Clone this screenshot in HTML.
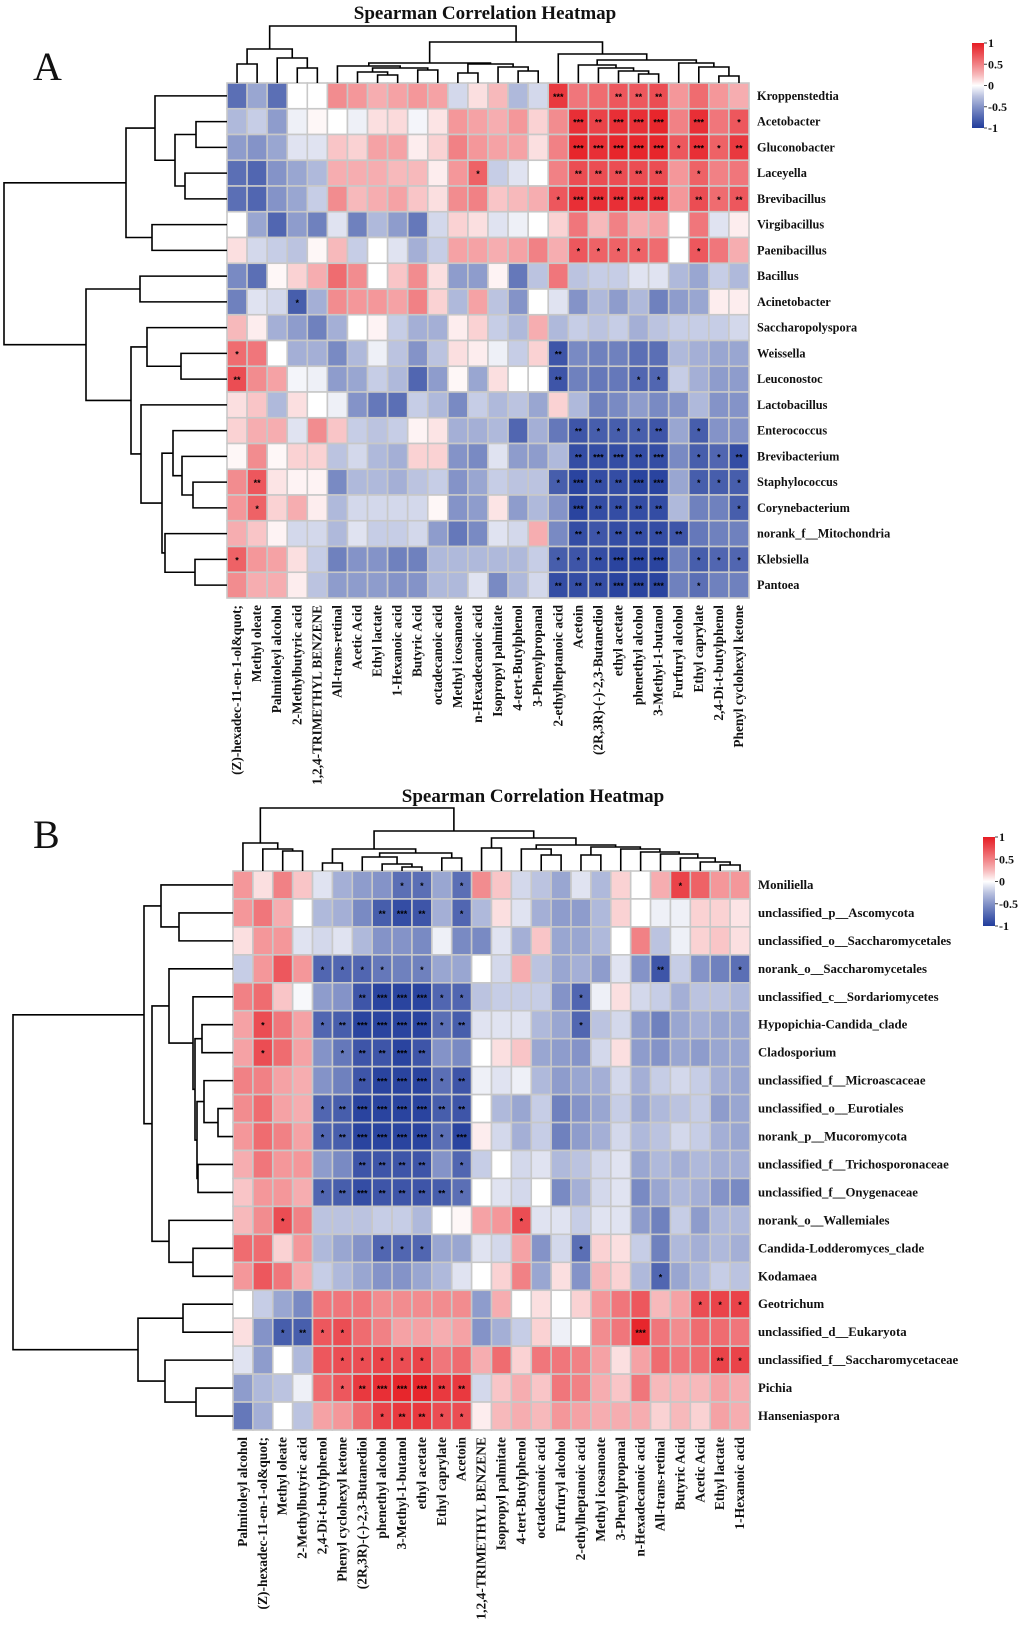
<!DOCTYPE html>
<html><head><meta charset="utf-8"><style>
html,body{margin:0;padding:0;background:#fff;}
svg{display:block;font-family:"Liberation Serif",serif;}
</style></head><body>
<svg id="chart" width="1031" height="1637" viewBox="0 0 1031 1637" xmlns="http://www.w3.org/2000/svg"></svg>
<script>
// ===== Panel A data =====
const colsA = ["(Z)-hexadec-11-en-1-ol&quot;","Methyl oleate","Palmitoleyl alcohol","2-Methylbutyric acid","1,2,4-TRIMETHYL BENZENE","All-trans-retinal","Acetic Acid","Ethyl lactate","1-Hexanoic acid","Butyric Acid","octadecanoic acid","Methyl icosanoate","n-Hexadecanoic acid","Isopropyl palmitate","4-tert-Butylphenol","3-Phenylpropanal","2-ethylheptanoic acid","Acetoin","(2R,3R)-(-)-2,3-Butanediol","ethyl acetate","phenethyl alcohol","3-Methyl-1-butanol","Furfuryl alcohol","Ethyl caprylate","2,4-Di-t-butylphenol","Phenyl cyclohexyl ketone"];
const rowsA = ["Kroppenstedtia","Acetobacter","Gluconobacter","Laceyella","Brevibacillus","Virgibacillus","Paenibacillus","Bacillus","Acinetobacter","Saccharopolyspora","Weissella","Leuconostoc","Lactobacillus","Enterococcus","Brevibacterium","Staphylococcus","Corynebacterium","norank_f__Mitochondria","Klebsiella","Pantoea"];
const valsA = [
[-.7,-.4,-.7,0,0,.45,.4,.3,.35,.4,.35,-.15,.1,.25,-.3,-.15,.85,.55,.6,.7,.7,.75,.4,.6,.4,.3],
[-.3,-.2,-.45,-.05,.02,0,-.05,.1,.12,-.03,.08,.4,.35,.3,.4,.15,.45,.9,.8,.9,.9,.95,.5,.9,.55,.7],
[-.45,-.5,-.4,-.1,-.1,.2,.15,.35,.35,.05,.15,.5,.4,.35,.35,.1,.5,.95,.9,.95,.95,.95,.7,.9,.65,.85],
[-.7,-.75,-.5,-.4,-.3,.3,.3,.3,.25,.25,.05,.4,.65,-.2,-.1,0,.5,.75,.75,.75,.75,.75,.4,.65,.5,.55],
[-.7,-.75,-.5,-.4,-.2,.45,.25,.3,.35,.2,.1,.45,.5,.2,.25,.3,.7,.9,.9,.9,.9,.9,.4,.75,.6,.7],
[0,-.4,-.75,-.45,-.6,-.1,-.6,-.3,-.45,-.65,-.15,.15,.1,-.1,-.05,0,.15,.55,.25,.5,.3,.35,0,.55,-.1,.05],
[.1,-.15,-.2,-.25,.02,.25,-.2,0,-.1,-.35,-.2,.35,.35,.3,.35,.5,.3,.7,.65,.65,.65,.6,0,.7,.55,.3],
[-.55,-.7,.02,.15,.3,.6,.45,0,.2,.45,.1,-.45,-.45,.03,-.65,-.25,.55,-.25,-.2,-.2,-.1,-.1,-.3,-.4,-.2,-.3],
[-.6,-.1,-.15,-.8,-.35,.45,.4,.4,.35,.5,.15,-.3,.35,-.25,-.5,0,-.1,-.5,-.3,-.45,-.3,-.6,-.45,-.4,.05,.05],
[.25,.05,-.35,-.45,-.6,-.35,0,.03,-.2,-.35,-.35,.05,.15,-.2,-.3,.3,-.3,-.2,-.25,-.2,-.35,-.25,-.2,-.2,-.2,-.15],
[.6,.55,0,-.35,-.35,-.55,-.3,-.05,-.25,-.5,-.25,.1,.05,-.05,-.2,.15,-.85,-.55,-.6,-.6,-.7,-.7,-.3,-.35,-.4,-.4],
[.75,.45,.35,-.03,-.05,-.45,-.4,-.2,-.3,-.75,-.45,.02,-.4,.1,0,0,-.85,-.6,-.65,-.65,-.75,-.75,-.2,-.35,-.45,-.45],
[.1,.2,-.3,.1,0,-.05,-.5,-.65,-.7,-.2,-.3,-.55,-.2,-.3,-.25,-.4,.15,-.3,-.6,-.55,-.45,-.55,-.5,-.3,-.5,-.5],
[.15,.3,.3,-.1,.45,.2,-.2,-.25,-.2,.03,.08,-.35,-.35,-.3,-.75,-.35,-.65,-.85,-.8,-.8,-.8,-.85,-.4,-.8,-.5,-.5],
[.02,.45,.02,.15,.15,-.25,-.15,-.3,-.35,.15,.15,-.5,-.55,-.1,-.45,-.45,-.3,-.9,-.9,-.9,-.9,-.9,-.55,-.8,-.75,-.9],
[.45,.7,.08,.03,.03,-.55,-.3,-.3,-.35,-.25,-.2,-.5,-.4,-.2,-.25,-.25,-.8,-.95,-.9,-.9,-.95,-.95,-.4,-.8,-.8,-.8],
[.4,.65,.15,.3,.05,-.3,-.15,-.15,-.15,-.15,.02,-.5,-.45,.08,-.45,-.3,-.5,-.95,-.9,-.9,-.9,-.9,-.3,-.6,-.6,-.8],
[.3,.2,.03,-.15,-.15,-.3,-.1,-.2,-.2,-.15,-.45,-.65,-.55,-.1,-.15,.3,-.55,-.9,-.85,-.9,-.9,-.9,-.85,-.65,-.6,-.6],
[.65,.4,.35,.1,-.2,-.6,-.5,-.5,-.6,-.6,-.3,-.3,-.3,-.3,-.3,-.2,-.8,-.85,-.9,-.95,-.95,-.95,-.6,-.8,-.75,-.75],
[.45,.3,.3,.05,-.25,-.45,-.45,-.45,-.5,-.5,-.3,-.3,-.1,-.55,-.3,-.15,-.9,-.9,-.9,-.95,-.95,-.95,-.6,-.7,-.6,-.6]
];
const sigA = ["00000000000000003002220000","00000000000000000323330301","00000000000000000333331312","00000000000010000222220100","00000000000000001333330212","00000000000000000000000000","00000000000000000111100100","00000000000000000000000000","00010000000000000000000000","00000000000000000000000000","10000000000000002000000000","20000000000000002000110000","00000000000000000000000000","00000000000000000211120100","00000000000000000233230112","02000000000000001322330111","01000000000000000322220001","00000000000000000212222000","10000000000000001123330111","00000000000000002223330100"];
const colTreeA = [57,[34,[19,0,1],[25,2,[15,3,4]]],[41,[20,[17,5,[15,[11,6,[8,7,8]],[13,9,10]]],[19,[10,11,12],[16,13,[12,14,15]]]],[29,16,[23,[18,17,[15,18,[12,19,[9,20,21]]]],[20,22,[16,23,[7,24,25]]]]]]];
const rowTreeA = [223,[101,[72,0,[52,[31,1,2],[42,3,4]]],[75,5,6]],[141,[87,7,8],[96,[80,9,[46,10,11]],[86,12,[65,[54,13,[45,14,[34,15,16]]],[62,17,[32,18,19]]]]]]];

// ===== Panel B data =====
const colsB = ["Palmitoleyl alcohol","(Z)-hexadec-11-en-1-ol&quot;","Methyl oleate","2-Methylbutyric acid","2,4-Di-t-butylphenol","Phenyl cyclohexyl ketone","(2R,3R)-(-)-2,3-Butanediol","phenethyl alcohol","3-Methyl-1-butanol","ethyl acetate","Ethyl caprylate","Acetoin","1,2,4-TRIMETHYL BENZENE","Isopropyl palmitate","4-tert-Butylphenol","octadecanoic acid","Furfuryl alcohol","2-ethylheptanoic acid","Methyl icosanoate","3-Phenylpropanal","n-Hexadecanoic acid","All-trans-retinal","Butyric Acid","Acetic Acid","Ethyl lactate","1-Hexanoic acid"];
const rowsB = ["Moniliella","unclassified_p__Ascomycota","unclassified_o__Saccharomycetales","norank_o__Saccharomycetales","unclassified_c__Sordariomycetes","Hypopichia-Candida_clade","Cladosporium","unclassified_f__Microascaceae","unclassified_o__Eurotiales","norank_p__Mucoromycota","unclassified_f__Trichosporonaceae","unclassified_f__Onygenaceae","norank_o__Wallemiales","Candida-Lodderomyces_clade","Kodamaea","Geotrichum","unclassified_d__Eukaryota","unclassified_f__Saccharomycetaceae","Pichia","Hanseniaspora"];
const valsB = [
[.4,.1,.5,.2,-.1,-.35,-.45,-.5,-.7,-.7,-.4,-.7,.45,.2,-.15,-.25,-.4,-.1,-.3,.15,0,.3,.8,.65,.4,.4],
[.4,.55,.3,0,-.3,-.35,-.55,-.8,-.9,-.85,-.35,-.75,-.3,.1,-.1,-.35,-.45,-.45,-.3,.15,0,-.05,-.05,.15,.15,.08],
[.1,.4,.4,-.1,-.15,-.1,-.3,-.5,-.5,-.55,-.05,-.55,-.55,-.1,-.35,.2,-.4,-.4,-.3,0,.5,-.25,-.05,.15,.2,.1],
[-.2,.4,.7,.4,-.75,-.75,-.75,-.65,-.6,-.6,-.4,-.4,0,-.15,.3,-.25,-.4,-.35,-.45,-.1,-.5,-.85,-.2,-.5,-.6,-.7],
[.5,.6,.2,-.02,-.45,-.5,-.85,-.95,-.95,-.95,-.75,-.75,-.25,-.2,-.2,-.2,-.5,-.75,-.05,.1,-.15,-.2,-.35,-.25,-.25,-.3],
[.35,.75,.55,.35,-.75,-.8,-.95,-.95,-.95,-.95,-.7,-.8,-.1,-.1,-.1,-.3,-.4,-.75,-.25,-.15,-.45,-.6,-.4,-.35,-.4,-.4],
[.35,.75,.6,.35,-.5,-.65,-.85,-.85,-.95,-.85,-.5,-.55,0,.1,.2,-.4,-.45,-.5,-.15,.1,-.45,-.5,-.4,-.45,-.4,-.4],
[.5,.5,.35,.3,-.5,-.6,-.85,-.95,-.95,-.95,-.7,-.85,-.05,-.1,-.05,-.3,-.45,-.4,-.35,-.15,-.35,-.2,-.15,-.2,-.35,-.4],
[.45,.6,.35,.3,-.75,-.8,-.95,-.95,-.95,-.95,-.8,-.85,0,-.3,-.4,-.2,-.6,-.5,-.4,-.2,-.4,-.3,-.25,-.2,-.45,-.4],
[.4,.6,.5,.35,-.75,-.8,-.95,-.95,-.95,-.95,-.7,-.95,.05,-.15,-.35,-.2,-.6,-.45,-.35,-.15,-.3,-.25,-.15,-.2,-.35,-.4],
[.3,.55,.4,.4,-.45,-.55,-.85,-.85,-.85,-.85,-.5,-.75,-.2,0,-.15,-.1,-.3,-.25,-.15,-.1,-.4,-.3,-.35,-.3,-.35,-.35],
[.2,.4,.4,.3,-.75,-.8,-.9,-.85,-.85,-.85,-.8,-.7,0,-.1,-.15,0,-.55,-.35,-.15,-.1,-.55,-.4,-.3,-.35,-.5,-.55],
[.25,.45,.75,.5,-.25,-.25,-.25,-.2,-.2,-.3,0,.02,.35,.4,.75,-.1,-.1,-.2,-.1,-.1,-.45,-.6,-.2,-.45,-.3,-.3],
[.6,.6,.15,.4,-.3,-.4,-.5,-.75,-.75,-.75,-.4,-.4,-.1,-.15,.35,-.5,-.15,-.7,.15,.1,-.2,-.6,-.3,-.35,-.3,-.35],
[.4,.7,.55,.3,-.2,-.3,-.4,-.5,-.5,-.4,-.3,-.1,0,.15,.5,-.4,.1,-.5,.25,.15,-.3,-.75,-.4,-.3,-.2,-.25],
[0,-.2,-.4,-.55,.55,.55,.55,.45,.45,.45,.45,.45,-.45,.3,0,.1,0,.15,.4,.55,.7,.25,.35,.75,.8,.8],
[.1,-.5,-.8,-.8,.7,.75,.6,.5,.35,.35,.3,.35,-.5,-.35,-.2,.15,-.05,0,.45,.55,.95,.55,.45,.6,.6,.55],
[-.1,-.45,0,-.3,.7,.75,.75,.8,.75,.8,.55,.6,.3,.6,.15,.55,.55,.5,.35,.1,.35,.6,.55,.6,.8,.8],
[-.45,-.3,-.25,-.05,.6,.7,.85,.9,.95,.95,.85,.85,-.15,.2,.3,.2,.55,.5,.3,.2,.55,.25,.25,.25,.35,.3],
[-.65,-.35,0,-.25,.35,.4,.6,.8,.85,.85,.75,.75,.05,.25,.3,.25,.4,.35,.3,.3,.3,.15,.25,.15,.35,.3]
];
const sigB = ["00000000110100000000001000","00000002320100000000000000","00000000000000000000000000","00001111010000000000020001","00000023331100000100000000","01001233331200000100000000","01000122320000000000000000","00000023331200000000000000","00001233332200000000000000","00001233331300000000000000","00000022220100000000000000","00001232222100000000000000","00100000000000100000000000","00000001110000000100000000","00000000000000000000010000","00000000000000000000000111","00121100000000000000300000","00000111110000000000000021","00000123332200000000000000","00000001221100000000000000"];
const colTreeB = [63,[28,0,[22,1,[20,2,3]]],[40,[22,[8,4,5],[18,[14,6,[7,7,[4,8,9]]],[13,10,11]]],[33,[23,12,13],[26,[22,14,[16,15,16]],[24,[16,17,18],[22,19,[19,20,[17,21,[13,22,[9,23,[6,24,25]]]]]]]]]]];
const rowTreeB = [220,[89,[72,0,[54,1,2]],[81,[64,3,[40,4,[38,[31,5,6],[36,[29,7,[15,8,9]],[35,10,11]]]]],[64,12,[40,13,14]]]],[95,[50,15,16],[68,17,[37,18,19]]]];

// ===== rendering =====
const NS = "http://www.w3.org/2000/svg";
const svg = document.getElementById("chart");
function el(tag, attrs, parent) {
  const e = document.createElementNS(NS, tag);
  for (const k in attrs) e.setAttribute(k, attrs[k]);
  (parent || svg).appendChild(e);
  return e;
}
const BLUE=[33,60,155], RED=[230,28,35];
function color(v){
  v=Math.max(-1,Math.min(1,v));
  const t=Math.pow(Math.abs(v),0.85), c=v<0?BLUE:RED;
  const r=Math.round(255+(c[0]-255)*t), g=Math.round(255+(c[1]-255)*t), b=Math.round(255+(c[2]-255)*t);
  return "rgb("+r+","+g+","+b+")";
}
function stars(n){return n==="0"?"":"*".repeat(+n);}

function panel(cfg){
  const g = el("g", {});
  
  
  const cw = cfg.w / cfg.cols.length, rh = cfg.h / cfg.rows.length;
  const xc = i => cfg.x + (i + 0.5) * cw;
  const yc = j => cfg.y + (j + 0.5) * rh;
  cfg.vals.forEach((row, j) => row.forEach((v, i) => {
    const r = el("rect", {x: cfg.x + i*cw, y: cfg.y + j*rh, width: cw, height: rh, fill: color(v), stroke: "#c8c8c8", "stroke-width": 1.6}, g);
    
    
    const s = stars(cfg.sig[j][i]);
    if (s) {
      const t = el("text", {x: xc(i), y: yc(j) + 4, "text-anchor": "middle", "font-size": 9, "font-weight": "bold", fill: "#000", "font-family": "Liberation Sans, sans-serif"}, g);
      t.textContent = s;
      
      
    }
  }));
  cfg.rows.forEach((name, j) => {
    const t = el("text", {x: cfg.x + cfg.w + 8, y: yc(j) + 4, "font-size": cfg.fs, "font-weight": "bold", fill: "#111"}, g);
    t.textContent = name;
    
    
  });
  cfg.cols.forEach((name, i) => {
    const yy = cfg.y + cfg.h + 7, xx = xc(i) + 4;
    const t = el("text", {x: xx, y: yy, "font-size": cfg.cfs, "font-weight": "bold", fill: "#111", "text-anchor": "end", transform: "rotate(-90 " + xx + " " + yy + ")"}, g);
    t.textContent = name;
    
    
  });
  const dg = el("g", {stroke: "#000", "stroke-width": 1.6, fill: "none"}, g);
  
  
  function drawCol(node){
    if (typeof node === "number") return {p: xc(node), h: 0};
    const a = drawCol(node[1]), b = drawCol(node[2]), H = node[0], Y = cfg.y - H;
    const p = el("path", {d: "M"+a.p+","+(cfg.y-a.h)+"V"+Y+"H"+b.p+"V"+(cfg.y-b.h)}, dg);
    
    
    return {p: (a.p+b.p)/2, h: H};
  }
  function drawRow(node){
    if (typeof node === "number") return {p: yc(node), h: 0};
    const a = drawRow(node[1]), b = drawRow(node[2]), H = node[0], X = cfg.x - H;
    const p = el("path", {d: "M"+(cfg.x-a.h)+","+a.p+"H"+X+"V"+b.p+"H"+(cfg.x-b.h)}, dg);
    
    
    return {p: (a.p+b.p)/2, h: H};
  }
  drawCol(cfg.colTree);
  drawRow(cfg.rowTree);
  const tt = el("text", {x: cfg.tx, y: cfg.ty, "text-anchor": "middle", "font-size": 19, "font-weight": "bold", fill: "#111"}, g);
  tt.textContent = "Spearman Correlation Heatmap";
  
  
  const pl = el("text", {x: cfg.lx, y: cfg.ly, "font-size": 40, fill: "#111"}, g);
  pl.textContent = cfg.letter;
  
  
  const gid = "grad" + cfg.letter;
  const defs = el("defs", {}, g);
  const lg = el("linearGradient", {id: gid, x1: 0, y1: 0, x2: 0, y2: 1}, defs);
  [1, 0.75, 0.5, 0.25, 0, -0.25, -0.5, -0.75, -1].forEach((v, k) => el("stop", {offset: k*0.125, "stop-color": color(v)}, lg));
  const cb = el("rect", {x: cfg.cbx, y: cfg.cby, width: 12, height: cfg.cbh, fill: "url(#" + gid + ")"}, g);
  
  
  [1, 0.5, 0, -0.5, -1].forEach((v, k) => {
    const yy = cfg.cby + k * cfg.cbh / 4;
    el("line", {x1: cfg.cbx+12, x2: cfg.cbx+15, y1: yy, y2: yy, stroke: "#444", "stroke-width": 1}, g);
    const t = el("text", {x: cfg.cbx + 16, y: yy + 4, "font-size": 12, "font-weight": "bold", fill: "#111"}, g);
    t.textContent = String(v);
    
    
  });
}

panel({name: "heatmap-a", letter: "A", cols: colsA, rows: rowsA, vals: valsA, sig: sigA, colTree: colTreeA, rowTree: rowTreeA,
  x: 227, y: 83, w: 522, h: 515, fs: 12.3, cfs: 13.3, tx: 485, ty: 19, lx: 33, ly: 80, cbx: 972, cby: 43, cbh: 85});
panel({name: "heatmap-b", letter: "B", cols: colsB, rows: rowsB, vals: valsB, sig: sigB, colTree: colTreeB, rowTree: rowTreeB,
  x: 233, y: 871, w: 517, h: 559, fs: 12.8, cfs: 13.5, tx: 533, ty: 802, lx: 33, ly: 848, cbx: 983, cby: 837, cbh: 89});
</script>
</body></html>
